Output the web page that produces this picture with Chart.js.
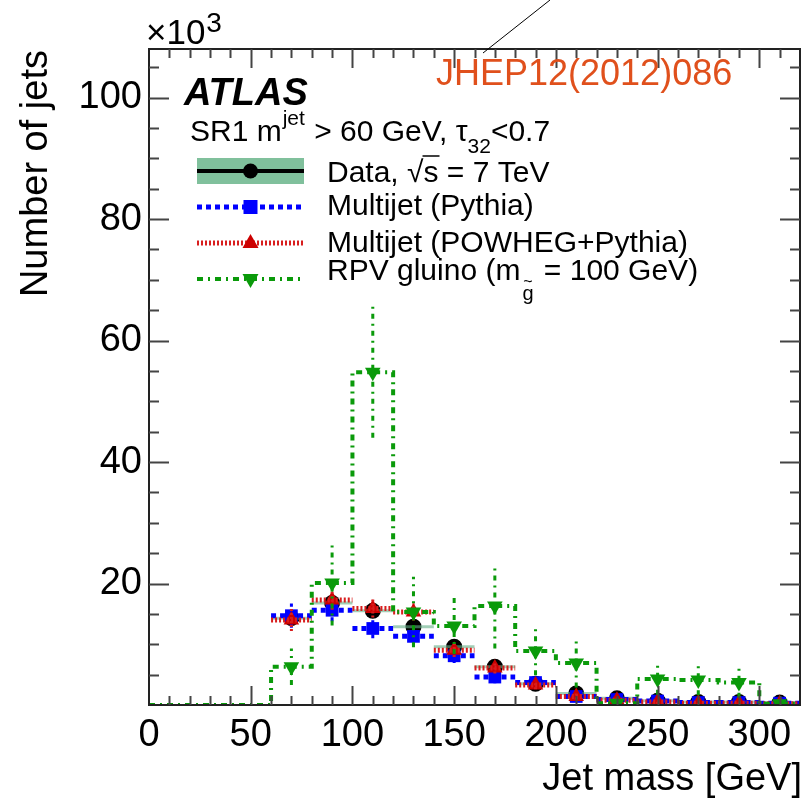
<!DOCTYPE html>
<html>
  <head>
    <meta charset="utf-8">
    <title>Jet mass - SR1</title>
    <script src="https://cdn.jsdelivr.net/npm/chart.js@4.4.0/dist/chart.umd.min.js"></script>
    <style>
      body { margin: 0; background: #fff; }
      canvas { display: block; }
    </style>
  </head>
  <body>
    <canvas id="canvas" width="809" height="805"></canvas>
    <script>
      // values in units of 10^3 jets, 20 GeV bins
      var binWidth = 20;
      var centers = [70, 90, 110, 130, 150, 170, 190, 210, 230, 250, 270, 290, 310];
      var dataVals = [14.3, 16.8, 15.5, 12.9, 9.6, 6.3, 3.5, 1.9, 1.1, 0.7, 0.5, 0.5, 0.4];
      var pythiaVals = [14.7, 15.6, 12.6, 11.3, 8.1, 4.6, 3.7, 1.4, 0.9, 0.65, 0.4, 0.4, 0.3];
      var pythiaErr = [2.0, 1.8, 1.6, 1.5, 1.2, 1.0, 0.8, 0.5, 0.4, 0.3, 0.3, 0.3, 0.2];
      var powhegVals = [14.0, 17.3, 15.9, 15.3, 9.0, 6.1, 3.3, 1.4, 0.8, 0.5, 0.3, 0.3, 0.2];
      var powhegErr = [1.8, 1.6, 1.5, 1.4, 1.1, 0.9, 0.7, 0.5, 0.4, 0.3, 0.3, 0.2, 0.2];

      var gluinoCenters = [10, 30, 50, 70, 90, 110, 130, 150, 170, 190, 210, 230, 250, 270, 290, 310];
      var gluinoVals = [0, 0, 0, 6.3, 20.1, 54.8, 15.3, 13.0, 16.3, 8.9, 6.9, 0.3, 4.3, 4.1, 3.7, 0.2];
      var gluinoErr = [0, 0, 0, 3.0, 7.0, 10.8, 5.8, 4.6, 7.0, 4.0, 4.0, 0.5, 2.6, 2.5, 2.5, 0.3];

      var xTicks = [0, 50, 100, 150, 200, 250, 300];
      var yTicks = [20, 40, 60, 80, 100];

      var FONT = '"Liberation Sans", Arial, sans-serif';
      var GREEN = '#0a9a0a';
      var BLUE = '#0000ff';
      var RED = '#d81e1e';

      function binSegments(cs, vs) {
        var pts = [];
        cs.forEach(function (c, i) {
          pts.push({ x: c - binWidth / 2, y: vs[i] });
          pts.push({ x: c + binWidth / 2, y: vs[i] });
          pts.push({ x: c + binWidth / 2, y: null });
        });
        return pts;
      }

      function steps(cs, vs) {
        var pts = [];
        cs.forEach(function (c, i) {
          pts.push({ x: c - binWidth / 2, y: vs[i] });
          pts.push({ x: c + binWidth / 2, y: vs[i] });
        });
        return pts;
      }

      function errorBars(cs, vs, es) {
        var pts = [];
        cs.forEach(function (c, i) {
          if (!es[i]) return;
          pts.push({ x: c, y: Math.max(0, vs[i] - es[i]) });
          pts.push({ x: c, y: vs[i] + es[i] });
          pts.push({ x: c, y: null });
        });
        return pts;
      }

      function points(cs, vs) {
        return cs.map(function (c, i) { return { x: c, y: vs[i] }; });
      }

      var lineBase = { showLine: true, pointRadius: 0, fill: false, borderCapStyle: 'butt' };

      var datasets = [
        // RPV gluino
        Object.assign({}, lineBase, { data: steps(gluinoCenters, gluinoVals), borderColor: GREEN, borderWidth: 4, borderDash: [6, 5, 2, 5], order: 0 }),
        Object.assign({}, lineBase, { data: errorBars(gluinoCenters, gluinoVals, gluinoErr), borderColor: GREEN, borderWidth: 3, borderDash: [5, 5, 2, 5], order: 0 }),
        { data: points(gluinoCenters.slice(3), gluinoVals.slice(3)), pointStyle: 'triangle', rotation: 180, pointRadius: 9, backgroundColor: GREEN, borderColor: GREEN, borderWidth: 0, order: 0 },
        // POWHEG
        Object.assign({}, lineBase, { data: binSegments(centers, powhegVals), borderColor: RED, borderWidth: 5, borderDash: [2, 2], order: 1 }),
        Object.assign({}, lineBase, { data: errorBars(centers, powhegVals, powhegErr), borderColor: RED, borderWidth: 3, borderDash: [2, 2], order: 1 }),
        { data: points(centers, powhegVals), pointStyle: 'triangle', pointRadius: 9, backgroundColor: '#cc0000', borderColor: '#cc0000', borderWidth: 0, order: 1 },
        // Pythia
        Object.assign({}, lineBase, { data: binSegments(centers, pythiaVals), borderColor: BLUE, borderWidth: 5, borderDash: [5, 4], order: 2 }),
        Object.assign({}, lineBase, { data: errorBars(centers, pythiaVals, pythiaErr), borderColor: BLUE, borderWidth: 3, borderDash: [4, 3], order: 2 }),
        { data: points(centers, pythiaVals), pointStyle: 'rect', pointRadius: 9, backgroundColor: BLUE, borderColor: BLUE, borderWidth: 0, order: 2 },
        // Data
        Object.assign({}, lineBase, { data: binSegments(centers, dataVals), borderColor: 'rgba(100,175,135,0.6)', borderWidth: 3, order: 3 }),
        { data: points(centers, dataVals), pointStyle: 'circle', pointRadius: 8, backgroundColor: '#000', borderColor: '#000', borderWidth: 0, order: 3 }
      ];

      function txt(ctx, s, x, y, size, opts) {
        opts = opts || {};
        ctx.font = (opts.style || '') + ' ' + size + 'px ' + FONT;
        ctx.fillStyle = opts.color || '#000';
        ctx.textAlign = opts.align || 'left';
        ctx.textBaseline = 'alphabetic';
        ctx.fillText(s, x, y);
        return ctx.measureText(s).width;
      }

      var rootFrame = {
        id: 'rootFrame',
        afterDraw: function (chart) {
          var ctx = chart.ctx;
          var a = chart.chartArea;
          var xs = chart.scales.x, ys = chart.scales.y;
          ctx.save();

          // frame
          ctx.strokeStyle = '#222';
          ctx.lineWidth = 2;
          ctx.setLineDash([]);
          ctx.strokeRect(a.left, a.top, a.right - a.left, a.bottom - a.top);

          // inward ticks on all four sides
          ctx.strokeStyle = '#444';
          ctx.lineWidth = 2;
          ctx.beginPath();
          for (var v = 10; v < 320; v += 10) {
            var px = Math.round(xs.getPixelForValue(v)) + 0.5;
            var len = v % 50 === 0 ? 19 : 9;
            ctx.moveTo(px, a.bottom); ctx.lineTo(px, a.bottom - len);
            ctx.moveTo(px, a.top); ctx.lineTo(px, a.top + len);
          }
          for (var w = 5; w < 108; w += 5) {
            var py = Math.round(ys.getPixelForValue(w)) + 0.5;
            var l2 = w % 20 === 0 ? 20 : 10;
            ctx.moveTo(a.left, py); ctx.lineTo(a.left + l2, py);
            ctx.moveTo(a.right, py); ctx.lineTo(a.right - l2, py);
          }
          ctx.stroke();

          // axis titles
          txt(ctx, 'Jet mass [GeV]', 802, 790, 38, { align: 'right' });
          ctx.save();
          ctx.translate(47, 50);
          ctx.rotate(-Math.PI / 2);
          txt(ctx, 'Number of jets', 0, 0, 38, { align: 'right' });
          ctx.restore();

          // x10^3
          var w1 = txt(ctx, '\u00d710', 146, 44, 35);
          txt(ctx, '3', 146 + w1 + 1, 32, 28);

          // JHEP reference
          ctx.strokeStyle = '#000';
          ctx.lineWidth = 1;
          ctx.beginPath();
          ctx.moveTo(483, 53); ctx.lineTo(550, 0);
          ctx.stroke();
          txt(ctx, 'JHEP12(2012)086', 436, 85, 36, { color: '#e0501c' });

          // ATLAS label
          txt(ctx, 'ATLAS', 184, 105, 38, { style: 'italic bold' });
          var x = 190;
          x += txt(ctx, 'SR1 m', x, 141, 30);
          x += txt(ctx, 'jet', x + 1, 125, 21) + 2;
          x += txt(ctx, ' > 60 GeV, \u03c4', x, 141, 30);
          x += txt(ctx, '32', x, 153, 21);
          txt(ctx, '<0.7', x, 141, 30);

          // legend samples
          var s0 = 197, s1 = 304, sc = 250.5;
          ctx.fillStyle = '#80c09c';
          ctx.fillRect(s0, 158, s1 - s0, 26);
          ctx.strokeStyle = '#000';
          ctx.lineWidth = 4;
          ctx.beginPath(); ctx.moveTo(s0, 171); ctx.lineTo(s1, 171); ctx.stroke();
          ctx.fillStyle = '#000';
          ctx.beginPath(); ctx.arc(sc, 171, 7.5, 0, Math.PI * 2); ctx.fill();

          ctx.lineWidth = 5;
          ctx.strokeStyle = BLUE;
          ctx.setLineDash([5, 4]);
          ctx.beginPath(); ctx.moveTo(s0, 207); ctx.lineTo(s1, 207); ctx.stroke();
          ctx.fillStyle = BLUE;
          ctx.fillRect(sc - 7, 200, 14, 14);

          ctx.strokeStyle = RED;
          ctx.setLineDash([2, 2]);
          ctx.beginPath(); ctx.moveTo(s0, 243); ctx.lineTo(s1, 243); ctx.stroke();
          ctx.fillStyle = '#cc0000';
          ctx.beginPath(); ctx.moveTo(sc, 234); ctx.lineTo(sc + 8, 248); ctx.lineTo(sc - 8, 248); ctx.closePath(); ctx.fill();

          ctx.lineWidth = 4;
          ctx.strokeStyle = GREEN;
          ctx.setLineDash([6, 5, 2, 5]);
          ctx.beginPath(); ctx.moveTo(s0, 279); ctx.lineTo(s1, 279); ctx.stroke();
          ctx.setLineDash([]);
          ctx.fillStyle = GREEN;
          ctx.beginPath(); ctx.moveTo(sc, 288); ctx.lineTo(sc + 8, 274); ctx.lineTo(sc - 8, 274); ctx.closePath(); ctx.fill();

          // legend texts
          var tx = 327;
          var d = txt(ctx, 'Data, ', tx, 182, 30);
          var sq = txt(ctx, '\u221a', tx + d, 182, 30);
          var sw = txt(ctx, 's', tx + d + sq, 182, 30);
          ctx.strokeStyle = '#000';
          ctx.lineWidth = 1.5;
          ctx.beginPath(); ctx.moveTo(tx + d + sq - 1, 156); ctx.lineTo(tx + d + sq + sw + 1, 156); ctx.stroke();
          txt(ctx, ' = 7 TeV', tx + d + sq + sw, 182, 30);

          txt(ctx, 'Multijet (Pythia)', tx, 215, 30);
          txt(ctx, 'Multijet (POWHEG+Pythia)', tx, 252, 30);
          var r = txt(ctx, 'RPV gluino (m', tx, 280, 30);
          var gw = txt(ctx, 'g', tx + r + 2, 300, 20);
          txt(ctx, '~', tx + r + 2 + gw / 2, 287, 16, { align: 'center' });
          txt(ctx, ' = 100 GeV)', tx + r + gw + 4, 280, 30);

          ctx.restore();
        }
      };

      var ctx = document.getElementById('canvas').getContext('2d');
      window.massChart = new Chart(ctx, {
        type: 'scatter',
        data: { datasets: datasets },
        options: {
          responsive: false,
          animation: false,
          layout: { padding: { top: 49, right: 7, left: 0, bottom: 0 } },
          plugins: { legend: { display: false }, tooltip: { enabled: false } },
          scales: {
            x: {
              type: 'linear', min: 0, max: 320,
              afterBuildTicks: function (s) { s.ticks = xTicks.map(function (v) { return { value: v }; }); },
              ticks: { color: '#000', font: { family: FONT, size: 38 }, padding: 8, maxRotation: 0, autoSkip: false },
              grid: { display: false, drawTicks: false },
              border: { display: false },
              afterFit: function (s) { s.height = 100; }
            },
            y: {
              type: 'linear', min: 0, max: 108,
              afterBuildTicks: function (s) { s.ticks = yTicks.map(function (v) { return { value: v }; }); },
              ticks: { color: '#000', font: { family: FONT, size: 38 }, padding: 7, autoSkip: false },
              grid: { display: false, drawTicks: false },
              border: { display: false },
              afterFit: function (s) { s.width = 149; }
            }
          }
        },
        plugins: [rootFrame]
      });
    </script>
  </body>
</html>
